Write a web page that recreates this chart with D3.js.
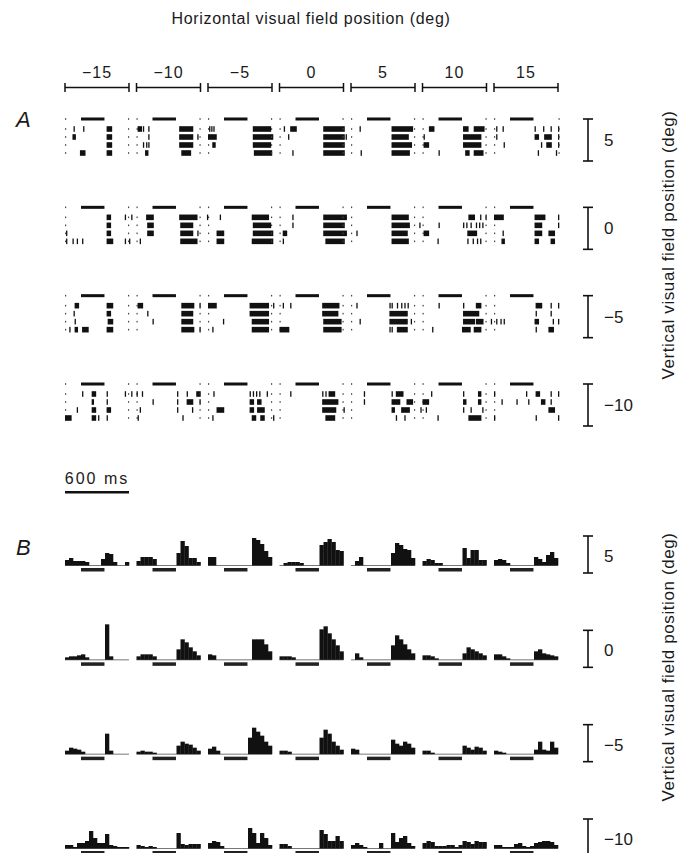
<!DOCTYPE html>
<html><head><meta charset="utf-8">
<script src="https://cdn.jsdelivr.net/npm/d3@7"></script>
<style>
body{margin:0;background:#fff}
svg{display:block}
text{font-family:"Liberation Sans",Arial,Helvetica,sans-serif;fill:#1a1a1a}
</style>
</head><body>
<svg id="chart" width="680" height="853"></svg>
<script>
// ---------- data ----------
const horizPos = [-15, -10, -5, 0, 5, 10, 15];          // deg, columns
const vertPos = [5, 0, -5, -10];                        // deg, rows
const horizLabels = ["−15", "−10", "−5", "0", "5", "10", "15"];
const vertLabels = ["5", "0", "−5", "−10"];
const stimWindow = [150, 370];                          // ms, stimulus on/off within a 600 ms cell
const cellDuration = 600;                               // ms
const binWidth = 37.5;                                  // ms per histogram bin
const scaleBarMs = 600;

// Raster spike times (ms) per column, per trial; [a,b] = burst of dense spikes
const spikesV5 = [
  [[80,170,[390,430]], [[70,90],[390,430]], [[390,430]], [[140,180],[390,430]]],
  [[[10,40],60,110,[400,520]], [110,[400,520],570], [60,90,110,[400,520]], [[80,100],[420,500]]],
  [[10,30,50,[420,580]], [[0,70],[420,600]], [[40,60],[420,580]], [[430,590]]],
  [[40,[100,150],[410,600]], [80,[410,600],620], [[410,600]], [120,[410,600]]],
  [[80,[380,570]], [[380,530]], [[380,560]], [90,[380,540]]],
  [[[60,100],[380,420],[480,570]], [10,[380,540]], [[10,50],[380,540]], [150,[400,430],[480,560]]],
  [[20,80,380,460,530,600], [20,[380,410],[470,530],600], [90,440,[490,530],600], [410,580]]
];
const spikesV0 = [
  [[[390,420]], [[390,420]], [10,[390,420]], [10,70,110,160,[390,440]]],
  [[-110,-50,[90,150],[400,560]], [[100,150],[410,520]], [[100,150],[410,520],570], [-110,-70,30,[410,560]]],
  [[-10,110,[410,560]], [[420,580]], [[80,140],[420,600]], [[80,140],[410,600]]],
  [[120,[410,620]], [120,[410,600]], [[30,60],[410,620]], [30,[430,600]]],
  [[[380,530]], [[380,540],640], [50,[380,520]], [[380,530]]],
  [[[430,480],540,590], [150,380,410,450,500,530,560], [[10,50],[420,500]], [140,420,470,510,540]],
  [[[0,80],[380,470],600], [[380,440],600], [80,[380,440],[510,560]], [[70,90],[380,410],[530,560]]]
];
const spikesVm5 = [
  [[[90,120],[390,440]], [80,[390,420]], [90,[400,440]], [40,[90,110],[160,210],[390,440]]],
  [[[10,50],[420,530],590], [100,[420,520]], [150,[420,520]], [[420,530],590]],
  [[[0,70],[390,560],610], [[390,560]], [140,[410,560]], [40,[410,560]]],
  [[30,100,[400,550]], [[400,540]], [[410,570]], [[0,80],[410,570]]],
  [[50,360,380,430,470,500,530], [[360,520]], [80,[360,520],560], [360,380,[430,520]]],
  [[150,380,[500,540]], [[380,520]], [[380,480],[500,560]], [90,[370,440],[480,540]]],
  [[[390,440],530,600], [390,530], [-30,20,60,90,[380,410],550,600], [390,[510,550]]]
];
const spikesVm10 = [
  [[160,[250,280],390], [[250,260],390], [110,[250,280],[390,420]], [[0,50],[250,280],310,390]],
  [[-110,-50,0,50,380,470,[560,590]], [150,380,[470,520],590], [30,380,520], [10,430]],
  [[50,390,420,450,480,550], [[390,420],[460,490]], [[80,140],[390,420],[460,520]], [40,[410,440],[490,520],610]],
  [[100,400,430,[460,510]], [[400,540]], [[400,520],600], [[430,510]]],
  [[120,380,[420,480]], [120,[380,450],[520,570]], [[380,400],[470,540]], [420,500]],
  [[80,380,[520,540]], [[0,50],[380,400],[520,540]], [-20,30,380,450,560], [140,[430,540]]],
  [[0,300,[390,420],530,600], [70,210,320,[440,470],530], [[510,560]], [0,390,600]]
];
const rasterRows = [spikesV5, spikesV0, spikesVm5, spikesVm10];

// Peristimulus histograms (counts per bin), 16 bins per column
const histV5 = [
  [5,7,4,4,4,3,0,0,0,6,12,11,3,0,0,3],
  [4,8,8,8,6,0,0,0,0,0,12,24,19,7,7,3],
  [8,8,0,0,0,0,0,0,0,0,0,27,25,21,14,8],
  [0,2,3,3,3,2,0,0,0,0,20,23,26,23,15,14],
  [0,4,8,0,0,0,0,0,0,0,12,22,20,16,15,7],
  [4,6,5,2,2,0,0,0,0,0,17,7,15,15,5,5],
  [5,6,5,2,0,0,0,0,0,0,8,6,3,10,13,7]
];
const histV0 = [
  [2,3,3,4,5,2,0,0,0,0,35,3,0,0,0,0],
  [3,5,5,5,3,0,0,0,0,0,10,20,17,12,8,4],
  [5,4,0,0,0,0,0,0,0,0,0,20,20,20,15,8],
  [3,3,3,2,0,0,0,0,0,0,30,33,26,20,14,8],
  [0,6,2,0,0,0,0,0,0,0,14,24,20,15,10,6],
  [4,4,3,1,0,0,0,0,0,0,6,12,10,8,6,4],
  [5,5,3,1,0,0,0,0,0,0,8,10,6,5,4,3]
];
const histVm5 = [
  [3,6,5,4,2,0,0,0,0,0,20,3,0,0,0,0],
  [2,3,2,2,1,0,0,0,0,0,8,12,10,9,6,3],
  [5,7,3,0,0,0,0,0,0,0,16,26,22,18,12,8],
  [3,3,2,0,0,0,0,0,0,0,16,24,20,12,8,4],
  [5,4,0,0,0,0,0,0,0,0,14,10,8,12,10,6],
  [3,3,1,0,0,0,0,0,0,0,8,6,4,7,6,3],
  [3,2,1,0,0,0,0,0,0,0,4,12,4,3,12,6]
];
const histVm10 = [
  [3,3,1,5,5,7,17,10,5,5,14,3,2,1,1,1],
  [3,2,1,2,1,0,0,0,0,0,15,4,3,4,4,4],
  [5,7,6,2,0,0,0,0,0,0,20,15,5,15,10,3],
  [4,4,2,0,0,0,0,0,0,0,18,14,7,7,12,7],
  [3,5,3,1,0,0,0,5,0,0,15,6,10,12,5,2],
  [5,7,6,2,2,2,3,3,1,3,7,6,4,7,6,6],
  [3,3,1,1,1,4,5,2,1,2,5,6,7,7,6,3]
];
const histRows = [histV5, histV0, histVm5, histVm10];
const markerTimes = [-80, 0];   // small trial-start dots before each column

// ---------- drawing ----------
const svg = d3.select("#chart");
const ink = "#111";

const x = d3.scaleBand().domain(horizPos).range([65, 558]).paddingInner(0.105).paddingOuter(0);
const t = d3.scaleLinear().domain([0, cellDuration]).range([0, x.bandwidth()]);
const rowA = d3.scalePoint().domain(vertPos).range([119, 384]);
const rowB = d3.scalePoint().domain(vertPos).range([565, 848]);
const hY = d3.scaleLinear().domain([0, 40]).range([0, 40]);
const trialOffsets = [10, 18, 26, 34];

// Title
svg.append("text").attr("x", 311).attr("y", 24).attr("text-anchor", "middle")
  .attr("font-size", 16).attr("letter-spacing", 0.7).attr("fill", "#222")
  .text("Horizontal visual field position (deg)");

// Column brackets and labels
const cols = svg.append("g");
horizPos.forEach((h, i) => {
  const x0 = x(h), x1 = x(h) + x.bandwidth();
  cols.append("text").attr("x", (x0 + x1) / 2).attr("y", 78).attr("text-anchor", "middle")
    .attr("font-size", 16).attr("letter-spacing", 1).text(horizLabels[i]);
  cols.append("line").attr("x1", x0).attr("x2", x1).attr("y1", 87.5).attr("y2", 87.5)
    .attr("stroke", ink).attr("stroke-width", 1.3);
  [x0, x1].forEach(xx => cols.append("line").attr("x1", xx).attr("x2", xx)
    .attr("y1", 83).attr("y2", 92).attr("stroke", ink).attr("stroke-width", 1.5));
});

// Panel letters
svg.append("text").attr("x", 16).attr("y", 127).attr("font-size", 22).attr("font-style", "italic").text("A");
svg.append("text").attr("x", 16).attr("y", 555).attr("font-size", 22).attr("font-style", "italic").text("B");

// Raster panel A
vertPos.forEach((v, r) => {
  const y0 = rowA(v);
  const g = svg.append("g");
  horizPos.forEach((h, c) => {
    const cx = x(h);
    g.append("rect").attr("x", cx + t(stimWindow[0])).attr("y", y0 - 1.5)
      .attr("width", t(stimWindow[1]) - t(stimWindow[0])).attr("height", 3).attr("fill", ink);
    markerTimes.forEach(mt => {
      if (c === 0 && mt < 0) return;
      [0].concat(trialOffsets).forEach(off => {
        g.append("rect").attr("x", cx + t(mt)).attr("y", y0 + off - 0.8)
          .attr("width", 1.2).attr("height", 1.6).attr("fill", "#444");
      });
    });
    rasterRows[r][c].forEach((trial, k) => {
      const yy = y0 + trialOffsets[k];
      trial.forEach(s => {
        const a = Array.isArray(s) ? s[0] : s;
        const b = Array.isArray(s) ? s[1] : s;
        g.append("rect").attr("x", cx + t(a)).attr("y", yy - 2.8)
          .attr("width", t(b) - t(a) + 1.3).attr("height", 5.6).attr("fill", ink);
      });
    });
  });
  if (r === 0) {
    [0].concat(trialOffsets).forEach(off => {
      g.append("rect").attr("x", x(15) + t(cellDuration) + 0.5).attr("y", y0 + off - 0.8)
        .attr("width", 1.2).attr("height", 1.6).attr("fill", "#444");
    });
  }
  drawScaleBar(588, y0, y0 + 42, vertLabels[r], y0 + 27);
});

// 600 ms scale bar
svg.append("text").attr("x", x(-15) + t(scaleBarMs) / 2).attr("y", 484).attr("text-anchor", "middle")
  .attr("font-size", 16).attr("letter-spacing", 2).text("600 ms");
svg.append("rect").attr("x", x(-15)).attr("y", 491).attr("width", t(scaleBarMs)).attr("height", 2.5).attr("fill", ink);

// Histogram panel B
vertPos.forEach((v, r) => {
  const base = rowB(v);
  const g = svg.append("g");
  horizPos.forEach((h, c) => {
    const cx = x(h);
    g.append("line").attr("x1", cx).attr("x2", cx + t(cellDuration)).attr("y1", base + 0.5).attr("y2", base + 0.5)
      .attr("stroke", "#777").attr("stroke-width", 1);
    histRows[r][c].forEach((val, i) => {
      if (val <= 0) return;
      g.append("rect").attr("x", cx + t(i * binWidth)).attr("y", base - hY(val))
        .attr("width", t(binWidth) + 0.3).attr("height", hY(val) + 0.5).attr("fill", ink);
    });
    g.append("rect").attr("x", cx + t(stimWindow[0])).attr("y", base + 3)
      .attr("width", t(stimWindow[1]) - t(stimWindow[0])).attr("height", 3.5).attr("fill", "#222");
  });
  drawScaleBar(588, base - 29, base + 8, vertLabels[r], base - 3);
});

// Vertical axis titles
[245, 667].forEach(cy => {
  svg.append("text").attr("transform", `translate(674,${cy}) rotate(-90)`)
    .attr("text-anchor", "middle").attr("font-size", 17).attr("letter-spacing", 0.6)
    .text("Vertical visual field position (deg)");
});

function drawScaleBar(xx, y1, y2, label, ly) {
  const g = svg.append("g");
  g.append("line").attr("x1", xx).attr("x2", xx).attr("y1", y1).attr("y2", y2).attr("stroke", ink).attr("stroke-width", 1.6);
  [y1, y2].forEach(yy => g.append("line").attr("x1", xx - 5).attr("x2", xx + 5).attr("y1", yy).attr("y2", yy)
    .attr("stroke", ink).attr("stroke-width", 1.6));
  g.append("text").attr("x", xx + 16).attr("y", ly).attr("font-size", 17).text(label);
}
</script>
</body></html>
